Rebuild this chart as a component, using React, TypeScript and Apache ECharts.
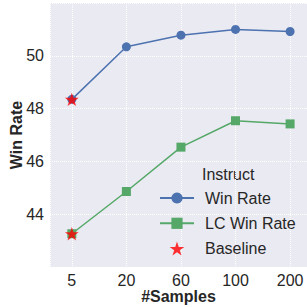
import React, { useEffect, useRef } from "react";
import * as echarts from "echarts";

const categories = ["5", "20", "60", "100", "200"];
const winRate = [48.35, 50.34, 50.78, 51.0, 50.92];
const lcWinRate = [43.26, 44.86, 46.54, 47.54, 47.42];
const baseline = [48.35, 43.26];
const yTicks = [44, 46, 48, 50];

const STAR =
  "path://M50,0 L61.8,36.2 L100,36.2 L69.1,58.8 L80.9,95.1 L50,72.7 L19.1,95.1 L30.9,58.8 L0,36.2 L38.2,36.2 Z";

export default function App() {
  const ref = useRef<HTMLDivElement>(null);
  useEffect(() => {
    const chart = echarts.init(ref.current!, undefined, { renderer: "svg" });
    const tickColor = "#262626";
    const font = "Liberation Sans";
    const grid = { type: "dotted" as const, color: "#ffffff", width: 1 };
    chart.setOption({
      animation: false,
      backgroundColor: "#ffffff",
      grid: {
        left: 50,
        top: 3,
        right: 0,
        bottom: 40,
        show: true,
        backgroundColor: "#EAEAF2",
        borderWidth: 0,
        containLabel: false,
        outerBoundsMode: "none",
      },
      xAxis: {
        type: "value",
        min: -0.4,
        max: 4.31,
        splitNumber: 5,
        name: "#Samples",
        nameLocation: "middle",
        nameGap: 21,
        nameMoveOverlap: false,
        nameTextStyle: { fontSize: 16, fontWeight: "bold", color: tickColor, fontFamily: font },
        axisLine: { show: false },
        axisTick: { show: false },
        splitLine: { show: true, lineStyle: grid },
        axisLabel: {
          fontSize: 16,
          color: tickColor,
          fontFamily: font,
          margin: 5,
          showMinLabel: false,
          showMaxLabel: false,
          formatter: (v: number) => {
            const i = Math.round(v);
            return Math.abs(v - i) < 1e-6 && categories[i] !== undefined ? categories[i] : "";
          },
        },
      },
      yAxis: {
        type: "value",
        min: 42,
        max: 52,
        interval: 2,
        name: "Win Rate",
        nameLocation: "middle",
        nameGap: 26,
        nameMoveOverlap: false,
        nameTextStyle: { fontSize: 16, fontWeight: "bold", color: tickColor, fontFamily: font },
        axisLine: { show: false },
        axisTick: { show: false },
        splitLine: { show: true, lineStyle: grid },
        axisLabel: {
          fontSize: 16,
          color: tickColor,
          fontFamily: font,
          margin: 6,
          formatter: (v: number) => (yTicks.includes(v) ? String(v) : ""),
        },
      },
      legend: {
        orient: "vertical",
        left: 159,
        top: 190,
        padding: 0,
        itemWidth: 34,
        itemHeight: 14,
        itemGap: 9.3,
        textStyle: { fontSize: 16, color: tickColor, fontFamily: font, padding: [0, 0, 0, 6] },
        data: ["Win Rate", "LC Win Rate", "Baseline"],
      },
      graphic: [
        {
          type: "text",
          left: 202,
          top: 166,
          style: { text: "Instruct", fontSize: 16, fill: tickColor, fontFamily: font },
        },
      ],
      series: [
        {
          name: "Win Rate",
          type: "line",
          data: winRate.map((v, i) => [i, v]),
          symbol: "circle",
          symbolSize: 9,
          lineStyle: { color: "#4C72B0", width: 1.5 },
          itemStyle: { color: "#4C72B0" },
          z: 2,
        },
        {
          name: "LC Win Rate",
          type: "line",
          data: lcWinRate.map((v, i) => [i, v]),
          symbol: "rect",
          symbolSize: 9,
          lineStyle: { color: "#55A868", width: 1.5 },
          itemStyle: { color: "#55A868" },
          z: 2,
        },
        {
          name: "Baseline",
          type: "scatter",
          data: baseline.map((v) => [0, v]),
          symbol: STAR,
          symbolSize: 14,
          symbolKeepAspect: true,
          itemStyle: { color: "#FF0000" },
          z: 3,
        },
      ],
    });
    return () => chart.dispose();
  }, []);
  return (
    <div
      ref={ref}
      style={{ position: "fixed", left: 0, top: 0, width: 307, height: 307 }}
    />
  );
}
